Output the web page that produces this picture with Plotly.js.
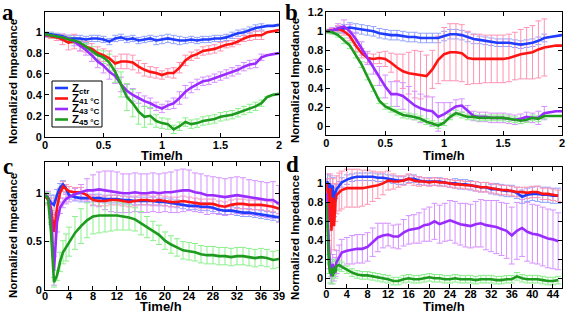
<!DOCTYPE html>
<html>
<head>
<meta charset="utf-8">
<script src="https://cdn.plot.ly/plotly-3.0.1.min.js"></script>
<style>html,body{margin:0;padding:0;background:#fff;}#chart{width:566px;height:313px;}</style>
</head>
<body>
<div id="chart"></div>
<script>
// ---------- Panel a (0–2 h) ----------
const aX = [0,0.05,0.1,0.15,0.2,0.25,0.3,0.35,0.4,0.45,0.5,0.55,0.6,0.65,0.7,0.75,0.8,0.85,0.9,0.95,1,1.05,1.1,1.15,1.2,1.25,1.3,1.35,1.4,1.45,1.5,1.55,1.6,1.65,1.7,1.75,1.8,1.85,1.9,1.95,2];
const aCtr = [0.98,0.98,0.97,0.96,0.94,0.94,0.94,0.93,0.94,0.94,0.93,0.91,0.94,0.95,0.93,0.94,0.92,0.93,0.94,0.92,0.93,0.94,0.93,0.92,0.92,0.93,0.92,0.93,0.93,0.94,0.94,0.95,0.97,0.99,1.00,1.02,1.04,1.05,1.06,1.06,1.07];
const a41 = [0.97,0.96,0.95,0.93,0.90,0.91,0.88,0.86,0.84,0.80,0.78,0.75,0.70,0.72,0.72,0.71,0.67,0.64,0.62,0.61,0.59,0.61,0.61,0.66,0.73,0.77,0.79,0.82,0.83,0.84,0.86,0.88,0.89,0.91,0.94,0.96,0.97,0.97,1.00,1.01,1.02];
const a43 = [0.97,0.97,0.96,0.95,0.94,0.91,0.87,0.83,0.78,0.72,0.68,0.62,0.58,0.50,0.44,0.40,0.37,0.34,0.32,0.29,0.27,0.30,0.32,0.37,0.43,0.47,0.50,0.53,0.54,0.56,0.58,0.60,0.62,0.64,0.67,0.69,0.70,0.76,0.78,0.79,0.80];
const a45 = [0.98,0.97,0.96,0.95,0.93,0.92,0.90,0.86,0.82,0.78,0.76,0.71,0.62,0.50,0.38,0.32,0.24,0.19,0.20,0.15,0.13,0.12,0.07,0.10,0.14,0.12,0.13,0.15,0.16,0.17,0.19,0.20,0.21,0.23,0.25,0.27,0.29,0.32,0.38,0.40,0.41];
const aCtrErr = [0.02,0.02,0.02,0.02,0.03,0.03,0.03,0.03,0.03,0.03,0.03,0.03,0.03,0.03,0.03,0.03,0.03,0.03,0.03,0.04,0.04,0.04,0.04,0.04,0.03,0.03,0.03,0.03,0.03,0.03,0.03,0.03,0.03,0.03,0.03,0.03,0.03,0.03,null,null,null];
const a41Err = [0.02,0.02,0.03,0.05,0.07,0.07,0.06,0.05,0.05,0.06,0.06,0.07,0.07,0.07,0.07,0.07,0.06,0.06,0.05,0.05,0.04,0.04,0.05,0.05,0.05,0.04,0.04,0.04,0.04,0.04,0.04,0.03,0.03,0.03,0.03,0.04,0.04,0.04,null,null,null];
const a43Err = [0.02,0.02,0.02,0.03,0.03,0.04,0.05,0.05,0.06,0.06,0.07,0.07,0.07,0.07,0.06,0.06,0.05,0.05,0.05,0.04,0.04,0.04,0.05,0.06,0.06,0.05,0.05,0.04,0.04,0.04,0.04,0.04,0.04,0.04,0.04,0.04,0.04,0.03,null,null,null];
const a45Err = [0.02,0.02,0.02,0.02,0.03,0.03,0.03,0.03,0.04,0.05,0.06,0.08,0.10,0.12,0.13,0.13,0.12,0.10,0.08,0.06,0.05,0.05,0.04,0.04,0.04,0.04,0.04,0.04,0.04,0.04,0.04,0.04,0.04,0.04,0.04,0.04,0.04,0.03,null,null,null];

// ---------- Panel b (0–2 h) ----------
const bX = aX;
const bCtr = [1.00,1.01,1.02,1.03,1.04,1.03,1.02,1.01,1.00,0.98,0.97,0.96,0.96,0.95,0.94,0.94,0.93,0.93,0.93,0.93,0.95,0.97,0.97,0.96,0.94,0.92,0.91,0.90,0.89,0.88,0.88,0.88,0.87,0.86,0.87,0.88,0.90,0.93,0.94,0.95,0.96];
const b41 = [1.00,1.01,1.03,1.00,0.95,0.85,0.77,0.72,0.71,0.72,0.71,0.67,0.62,0.58,0.56,0.55,0.54,0.53,0.60,0.70,0.76,0.78,0.78,0.77,0.72,0.71,0.71,0.71,0.71,0.71,0.71,0.72,0.74,0.76,0.77,0.78,0.81,0.83,0.84,0.85,0.85];
const b43 = [1.00,1.01,1.03,1.05,1.00,0.92,0.82,0.72,0.63,0.53,0.42,0.34,0.34,0.32,0.27,0.22,0.19,0.17,0.16,0.10,0.13,0.17,0.21,0.22,0.16,0.11,0.10,0.10,0.09,0.09,0.09,0.08,0.07,0.08,0.10,0.09,0.09,0.14,0.15,0.16,0.16];
const b45 = [1.00,0.99,0.96,0.90,0.85,0.75,0.65,0.52,0.40,0.27,0.21,0.18,0.15,0.12,0.11,0.10,0.08,0.05,0.03,0.01,0.04,0.10,0.14,0.12,0.10,0.10,0.09,0.09,0.09,0.09,0.09,0.08,0.07,0.06,0.07,0.09,0.08,0.11,0.11,0.11,0.11];
const bCtrErr = [0.02,0.02,0.03,0.04,0.05,0.05,0.05,0.05,0.05,0.05,0.05,0.05,0.05,0.05,0.05,0.05,0.05,0.05,0.05,0.05,0.05,0.05,0.05,0.05,0.05,0.05,0.04,0.04,0.04,0.04,0.04,0.04,0.04,0.04,0.04,0.04,0.04,0.04,null,null,null];
const b41Err = [0.02,0.02,0.03,0.04,0.05,0.06,0.05,0.05,0.05,0.06,0.08,0.10,0.14,0.18,0.22,0.25,0.25,0.22,0.20,0.25,0.28,0.30,0.30,0.30,0.28,0.26,0.26,0.25,0.25,0.25,0.25,0.25,0.25,0.26,0.27,0.28,0.30,0.30,null,null,null];
const b43Err = [0.02,0.03,0.05,0.07,0.07,0.07,0.07,0.07,0.08,0.10,0.12,0.13,0.13,0.14,0.15,0.15,0.15,0.15,0.15,0.15,0.12,0.08,0.07,0.07,0.06,0.05,0.05,0.05,0.05,0.05,0.05,0.05,0.05,0.05,0.05,0.05,0.07,0.07,null,null,null];
const b45Err = [0.02,0.02,0.02,0.03,0.03,0.03,0.03,0.03,0.03,0.03,0.03,0.03,0.03,0.03,0.03,0.03,0.03,0.03,0.03,0.03,0.03,0.03,0.03,0.03,0.03,0.03,0.03,0.03,0.03,0.03,0.03,0.03,0.03,0.03,0.03,0.03,0.03,0.03,null,null,null];

// ---------- Panel c (0–39 h) ----------
const cX = [0,0.5,1,1.5,2,2.5,3,3.5,4,5,6,7,8,9,10,11,12,13,14,15,16,17,18,19,20,21,22,23,24,25,26,27,28,29,30,31,32,33,34,35,36,37,38,39];
const cCtr = [0.98,0.95,0.90,0.88,0.98,1.06,1.09,1.05,0.98,0.96,0.95,0.95,0.95,0.95,0.94,0.94,0.94,0.93,0.93,0.92,0.92,0.92,0.92,0.91,0.91,0.90,0.89,0.88,0.87,0.87,0.86,0.86,0.85,0.83,0.82,0.82,0.81,0.80,0.80,0.79,0.78,0.77,0.76,0.75];
const c41 = [0.98,0.93,0.85,0.60,0.85,1.00,1.07,1.04,1.02,1.01,1.01,0.98,0.93,0.92,0.92,0.93,0.93,0.92,0.91,0.92,0.93,0.93,0.92,0.93,0.92,0.91,0.91,0.92,0.91,0.90,0.89,0.89,0.89,0.87,0.86,0.88,0.89,0.89,0.88,0.88,0.88,0.87,0.86,0.84];
const c43 = [0.98,0.96,0.80,0.20,0.70,0.85,0.90,0.94,0.96,0.99,1.01,1.03,1.03,1.04,1.03,1.02,1.01,1.00,1.00,1.01,1.00,1.00,1.01,1.00,1.01,1.01,1.02,1.03,1.03,1.01,1.00,0.98,0.98,0.97,0.96,0.97,0.98,0.97,0.96,0.95,0.94,0.93,0.93,0.89];
const c45 = [0.98,0.95,0.60,0.08,0.15,0.29,0.39,0.44,0.50,0.59,0.66,0.72,0.76,0.77,0.77,0.77,0.77,0.76,0.75,0.73,0.69,0.65,0.61,0.57,0.51,0.47,0.44,0.41,0.40,0.39,0.37,0.36,0.36,0.35,0.35,0.34,0.35,0.35,0.34,0.33,0.34,0.33,0.31,0.32];
const cCtrErr = [0.03,0.05,0.08,0.10,0.06,0.04,0.04,0.04,0.04,0.04,0.04,0.04,0.04,0.04,0.04,0.04,0.04,0.04,0.04,0.04,0.04,0.04,0.04,0.04,0.04,0.04,0.04,0.04,0.04,0.04,0.04,0.04,0.04,0.04,0.04,0.04,0.04,0.04,0.04,0.04,0.04,0.04,0.04,0.04];
const c41Err = [0.03,0.05,0.10,0.12,0.08,0.05,0.05,0.05,0.05,0.05,0.05,0.05,0.05,0.05,0.05,0.05,0.05,0.05,0.05,0.05,0.05,0.05,0.05,0.05,0.05,0.05,0.05,0.05,0.05,0.05,0.05,0.05,0.05,0.05,0.05,0.05,0.05,0.05,0.05,0.05,0.05,0.05,0.05,0.05];
const c43Err = [0.03,0.06,0.12,0.15,0.10,0.06,0.05,0.05,0.05,0.06,0.08,0.12,0.16,0.18,0.20,0.21,0.21,0.20,0.20,0.20,0.20,0.20,0.20,0.20,0.20,0.21,0.22,0.22,0.21,0.20,0.20,0.20,0.19,0.19,0.19,0.19,0.19,0.19,0.18,0.18,0.18,0.18,0.19,0.19];
const c45Err = [0.03,0.05,0.10,0.05,0.05,0.10,0.12,0.14,0.15,0.17,0.18,0.18,0.18,0.18,0.17,0.16,0.15,0.14,0.13,0.12,0.12,0.11,0.10,0.10,0.09,0.09,0.09,0.09,0.09,0.09,0.09,0.09,0.09,0.09,0.09,0.09,0.09,0.09,0.09,0.09,0.09,0.09,0.09,0.09];

// ---------- Panel d (0–45 h) ----------
const dX = [0,0.25,0.5,0.75,1,1.25,1.5,1.75,2,2.5,3,4,5,6,7,8,9,10,11,12,13,14,15,16,17,18,19,20,21,22,23,24,25,26,27,28,29,30,31,32,33,34,35,36,37,38,39,40,41,42,43,44,45];
const dCtr = [1.00,1.02,0.80,1.00,0.85,0.98,0.75,0.90,0.94,0.97,1.01,1.04,1.06,1.07,1.07,1.07,1.07,1.06,1.06,1.05,1.04,1.03,1.03,1.05,1.05,1.03,1.02,1.02,1.02,1.02,1.01,1.00,1.00,0.99,0.99,0.98,0.97,0.96,0.96,0.94,0.94,0.93,0.92,0.92,0.90,0.86,0.88,0.89,0.89,0.88,0.88,0.87,0.87];
const d41 = [1.00,0.90,0.60,0.95,0.50,0.85,0.55,0.80,0.88,0.91,0.93,0.95,0.95,0.95,0.95,0.96,0.97,0.98,1.00,1.03,1.02,1.02,1.03,1.05,1.03,1.02,1.02,1.01,1.02,1.01,1.01,1.00,0.99,0.99,0.98,0.98,0.97,0.96,0.96,0.95,0.94,0.93,0.93,0.92,0.91,0.91,0.90,0.91,0.91,0.89,0.89,0.88,0.87];
const d43 = [0.90,0.60,0.30,0.10,0.02,0.15,0.05,0.12,0.17,0.22,0.27,0.29,0.30,0.31,0.31,0.33,0.38,0.43,0.45,0.46,0.44,0.44,0.48,0.51,0.52,0.53,0.56,0.57,0.60,0.57,0.59,0.61,0.59,0.57,0.56,0.55,0.57,0.58,0.56,0.55,0.54,0.52,0.50,0.45,0.50,0.53,0.49,0.47,0.46,0.44,0.42,0.41,0.39];
const d45 = [0.80,0.40,0.15,0.05,0.10,0.02,0.12,0.06,0.13,0.14,0.12,0.09,0.06,0.04,0.03,0.03,0.02,0.01,0.00,-0.01,-0.03,-0.03,-0.01,0.00,-0.01,-0.01,0.00,0.01,0.00,0.00,-0.01,-0.01,0.00,-0.01,-0.01,-0.01,-0.02,-0.01,-0.01,-0.01,-0.02,-0.02,-0.01,-0.01,0.02,0.00,-0.01,-0.01,-0.01,-0.02,-0.03,-0.03,-0.02];
const dCtrErr = [0.05,0.08,0.12,0.08,0.10,0.08,0.10,0.06,0.05,0.05,0.05,0.05,0.04,0.04,0.04,0.04,0.04,0.04,0.04,0.04,0.04,0.04,0.04,0.04,0.04,0.04,0.04,0.04,0.04,0.04,0.04,0.04,0.05,0.05,0.05,0.05,0.05,0.05,0.05,0.05,0.06,0.06,0.06,0.06,0.06,0.07,0.07,0.07,0.08,0.08,0.08,0.08,0.08];
const d41Err = [0.05,0.10,0.20,0.15,0.25,0.20,0.25,0.20,0.20,0.20,0.20,0.20,0.20,0.20,0.19,0.18,0.16,0.14,0.12,0.10,0.08,0.06,0.05,0.05,0.05,0.05,0.04,0.04,0.04,0.04,0.04,0.04,0.04,0.04,0.04,0.04,0.05,0.05,0.05,0.05,0.05,0.05,0.05,0.05,0.05,0.05,0.06,0.06,0.06,0.06,0.06,0.06,0.06];
const d43Err = [0.10,0.15,0.20,0.10,0.08,0.10,0.08,0.10,0.12,0.13,0.14,0.14,0.15,0.15,0.15,0.15,0.15,0.15,0.13,0.12,0.12,0.13,0.14,0.15,0.15,0.16,0.17,0.18,0.19,0.20,0.20,0.21,0.22,0.22,0.23,0.23,0.24,0.25,0.26,0.27,0.28,0.28,0.29,0.30,0.30,0.30,0.31,0.31,0.31,0.31,0.31,0.31,0.30];
const d45Err = [0.10,0.15,0.10,0.10,0.08,0.08,0.08,0.06,0.05,0.05,0.05,0.04,0.04,0.04,0.04,0.04,0.04,0.04,0.04,0.04,0.04,0.04,0.04,0.04,0.04,0.04,0.04,0.04,0.04,0.04,0.04,0.04,0.04,0.04,0.04,0.04,0.04,0.04,0.04,0.04,0.04,0.04,0.04,0.04,0.04,0.04,0.04,0.04,0.04,0.04,0.04,0.04,0.04];

// ---------- Labels ----------
const seriesNames = ['Z<sub>ctr</sub>', 'Z<sub>41 °C</sub>', 'Z<sub>43 °C</sub>', 'Z<sub>45 °C</sub>'];
const panelLetters = ['a', 'b', 'c', 'd'];
const xTitle = 'Time/h';
const yTitle = 'Normalized Impedance';
const cTickVals = [0,4,8,12,16,20,24,28,32,36,39];

// ---------- Styles ----------
const lineColors = ['#1f3cff', '#ff1414', '#9a2cff', '#1e9a1e'];
const errColors = ['#93a3ff', '#ff93b4', '#d691ff', '#8af08a'];

const panels = [
  {xa:'x',  ya:'y',  x:aX, ys:[aCtr,a41,a43,a45], es:[aCtrErr,a41Err,a43Err,a45Err]},
  {xa:'x2', ya:'y2', x:bX, ys:[bCtr,b41,b43,b45], es:[bCtrErr,b41Err,b43Err,b45Err]},
  {xa:'x3', ya:'y3', x:cX, ys:[cCtr,c41,c43,c45], es:[cCtrErr,c41Err,c43Err,c45Err]},
  {xa:'x4', ya:'y4', x:dX, ys:[dCtr,d41,d43,d45], es:[dCtrErr,d41Err,d43Err,d45Err]}
];

const traces = [];
panels.forEach(p => {
  p.ys.forEach((y, i) => {
    traces.push({
      type:'scatter', mode:'markers', x:p.x, y:y, xaxis:p.xa, yaxis:p.ya,
      marker:{size:1, color:'rgba(0,0,0,0)'}, showlegend:false, hoverinfo:'skip',
      error_y:{type:'data', array:p.es[i], visible:true, color:errColors[i], thickness:1, width:3}
    });
  });
  p.ys.forEach((y, i) => {
    traces.push({
      type:'scatter', mode:'lines', x:p.x, y:y, xaxis:p.xa, yaxis:p.ya,
      name:seriesNames[i], line:{color:lineColors[i], width:2.6}, showlegend:false
    });
  });
});

const tickFont = {family:'Liberation Sans, Arial, sans-serif', size:11, color:'#000', weight:'bold'};
function axis(extra) {
  return Object.assign({
    showline:true, linecolor:'#000', linewidth:1, mirror:'allticks',
    ticks:'inside', ticklen:4, tickcolor:'#000', tickwidth:1,
    showgrid:false, zeroline:false, tickfont:tickFont, fixedrange:true
  }, extra);
}

const xa = [0.0795, 0.4929], xb = [0.5765, 0.9929];
const ytop = [0.5633, 0.9607], ytopB = [0.5687, 0.9607];
const ybotC = [0.0735, 0.4815], ybotD = [0.0808, 0.4655];

const W = 566, H = 313;
function px(x){ return x / W; }
function py(y){ return 1 - y / H; }

const annotations = [];
const letterPos = [[8,13],[291,13],[8,166],[292,164]];
panelLetters.forEach((l, i) => {
  annotations.push({xref:'paper', yref:'paper', x:px(letterPos[i][0]), y:py(letterPos[i][1]),
    text:l, showarrow:false, xanchor:'center', yanchor:'middle',
    font:{family:'Liberation Serif, Times New Roman, serif', size:23, color:'#000', weight:'bold'}});
});
const xTitlePos = [[162,155],[444,155],[161,306],[444,306]];
const yTitlePos = [[13,82],[295,81],[13,236],[295,238]];
for (let i = 0; i < 4; i++) {
  annotations.push({xref:'paper', yref:'paper', x:px(xTitlePos[i][0]), y:py(xTitlePos[i][1]),
    text:xTitle, showarrow:false, xanchor:'center', yanchor:'middle',
    font:{family:'Liberation Sans, Arial, sans-serif', size:13, color:'#000', weight:'bold'}});
  annotations.push({xref:'paper', yref:'paper', x:px(yTitlePos[i][0]), y:py(yTitlePos[i][1]),
    text:yTitle, showarrow:false, xanchor:'center', yanchor:'middle', textangle:-90,
    font:{family:'Liberation Sans, Arial, sans-serif', size:11.5, color:'#000', weight:'bold'}});
}

// custom legend inside panel a
const shapes = [{type:'rect', xref:'paper', yref:'paper', x0:px(52), x1:px(102), y0:py(127), y1:py(81),
  fillcolor:'#fff', line:{color:'#000', width:1}, layer:'above'}];
const legRows = [88, 98.5, 109, 119.5];
seriesNames.forEach((n, i) => {
  shapes.push({type:'line', xref:'paper', yref:'paper', x0:px(55), x1:px(68), y0:py(legRows[i]), y1:py(legRows[i]),
    line:{color:lineColors[i], width:2.6}, layer:'above'});
  annotations.push({xref:'paper', yref:'paper', x:px(71), y:py(legRows[i] + 0.5), text:n, showarrow:false,
    xanchor:'left', yanchor:'middle', borderpad:0,
    font:{family:'Liberation Sans, Arial, sans-serif', size:11.5, color:'#000', weight:'bold'}});
});

const layout = {
  width:W, height:H, margin:{l:0, r:0, t:0, b:0},
  paper_bgcolor:'#fff', plot_bgcolor:'#fff', showlegend:false,
  xaxis:  axis({domain:xa, range:[0,2], dtick:0.5, anchor:'y', ticklabelstandoff:-2}),
  yaxis:  axis({domain:ytop, range:[0,1.19], dtick:0.2, anchor:'x'}),
  xaxis2: axis({domain:xb, range:[0,2], dtick:0.5, anchor:'y2', ticklabelstandoff:-2}),
  yaxis2: axis({domain:ytopB, range:[-0.09,1.2], dtick:0.2, anchor:'x2'}),
  xaxis3: axis({domain:xa, range:[0,39], tickmode:'array', tickvals:cTickVals, anchor:'y3', ticklabelstandoff:-4}),
  yaxis3: axis({domain:ybotC, range:[0,1.32], dtick:0.5, anchor:'x3'}),
  xaxis4: axis({domain:xb, range:[0,45.75], dtick:4, tick0:0, anchor:'y4', ticklabelstandoff:-4}),
  yaxis4: axis({domain:ybotD, range:[-0.1,1.17], dtick:0.2, anchor:'x4'}),
  annotations:annotations, shapes:shapes
};

Plotly.newPlot('chart', traces, layout, {staticPlot:true, displayModeBar:false});
</script>
</body>
</html>
